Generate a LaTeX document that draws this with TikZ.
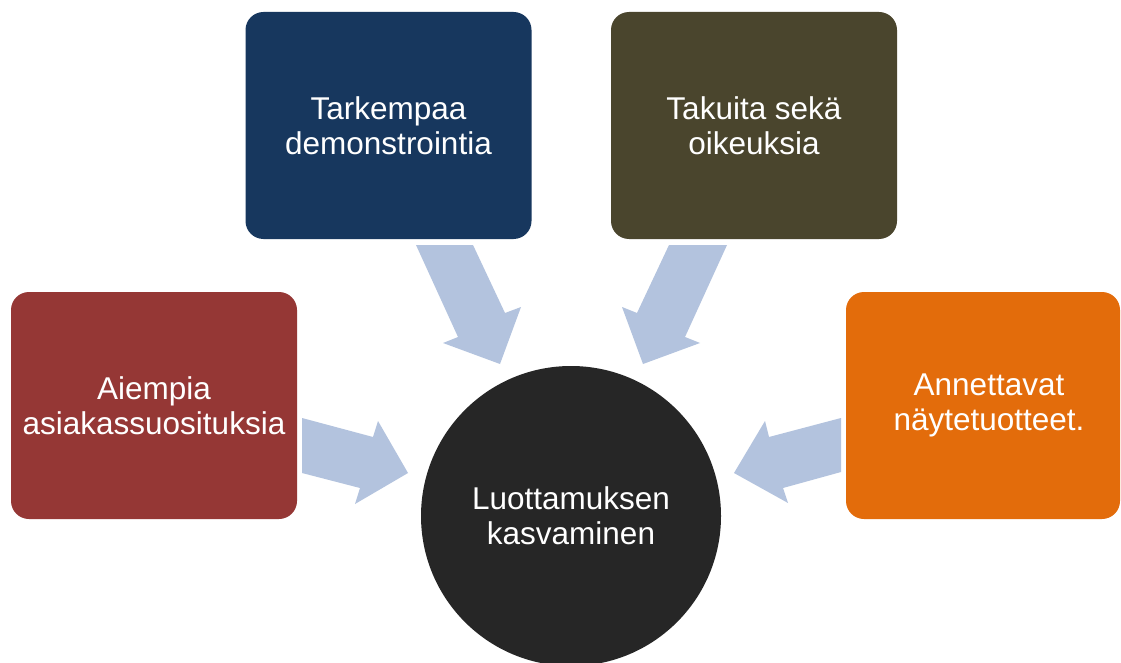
\documentclass[tikz,border=0pt]{standalone}
\usepackage{fontspec}
\setmainfont{Liberation Sans}
\definecolor{cblue}{HTML}{17375E}
\definecolor{colive}{HTML}{4A452D}
\definecolor{cred}{HTML}{953735}
\definecolor{corange}{HTML}{E36C0B}
\definecolor{cdark}{HTML}{262626}
\definecolor{carrow}{HTML}{B3C3DE}
\begin{document}
\begin{tikzpicture}[x=1pt,y=-1pt,
  boxshape/.style={rounded corners=18pt, minimum width=286pt, minimum height=227pt, inner sep=0pt},
  lbl/.style={text=white, align=center, font=\fontsize{31.5}{35}\selectfont},
  blockarrow/.style={fill=carrow, draw=none}]
\clip (0,0) rectangle (1121,663);
\fill[white] (0,0) rectangle (1121,663);
% boxes
\node[boxshape, fill=cblue, lbl] (b1) at (388.5,125.5) {Tarkempaa\\demonstrointia};
\node[boxshape, fill=colive, lbl] (b2) at (754,125.5) {Takuita sekä\\oikeuksia};
\node[boxshape, fill=cred, lbl] (b3) at (154,405.5) {Aiempia\\asiakassuosituksia};
\node[boxshape, fill=corange, minimum width=274pt] (b4) at (983,405.5) {};
\node[lbl] (t4) at (989,405.5) {Annettavat\\näytetuotteet.};
% center circle
\node[circle, fill=cdark, minimum size=300pt, inner sep=0pt, lbl] (c) at (571,516) {Luottamuksen\\kasvaminen};
% block arrows
\fill[blockarrow] (416,245) -- (473,245) -- (505,313) -- (521,307) -- (500,364) -- (443,343) -- (458,337) -- cycle;
\fill[blockarrow] (669,245) -- (727,245) -- (685,337) -- (700,343) -- (643,364) -- (622,307) -- (637,313) -- cycle;
\fill[blockarrow] (302,418) -- (373,437) -- (378,421) -- (408,473) -- (355,504) -- (360,488) -- (302,473) -- cycle;
\fill[blockarrow] (841,418) -- (769,437) -- (765,421) -- (734,473) -- (788,503) -- (783,488) -- (841,472) -- cycle;
\end{tikzpicture}
\end{document}
